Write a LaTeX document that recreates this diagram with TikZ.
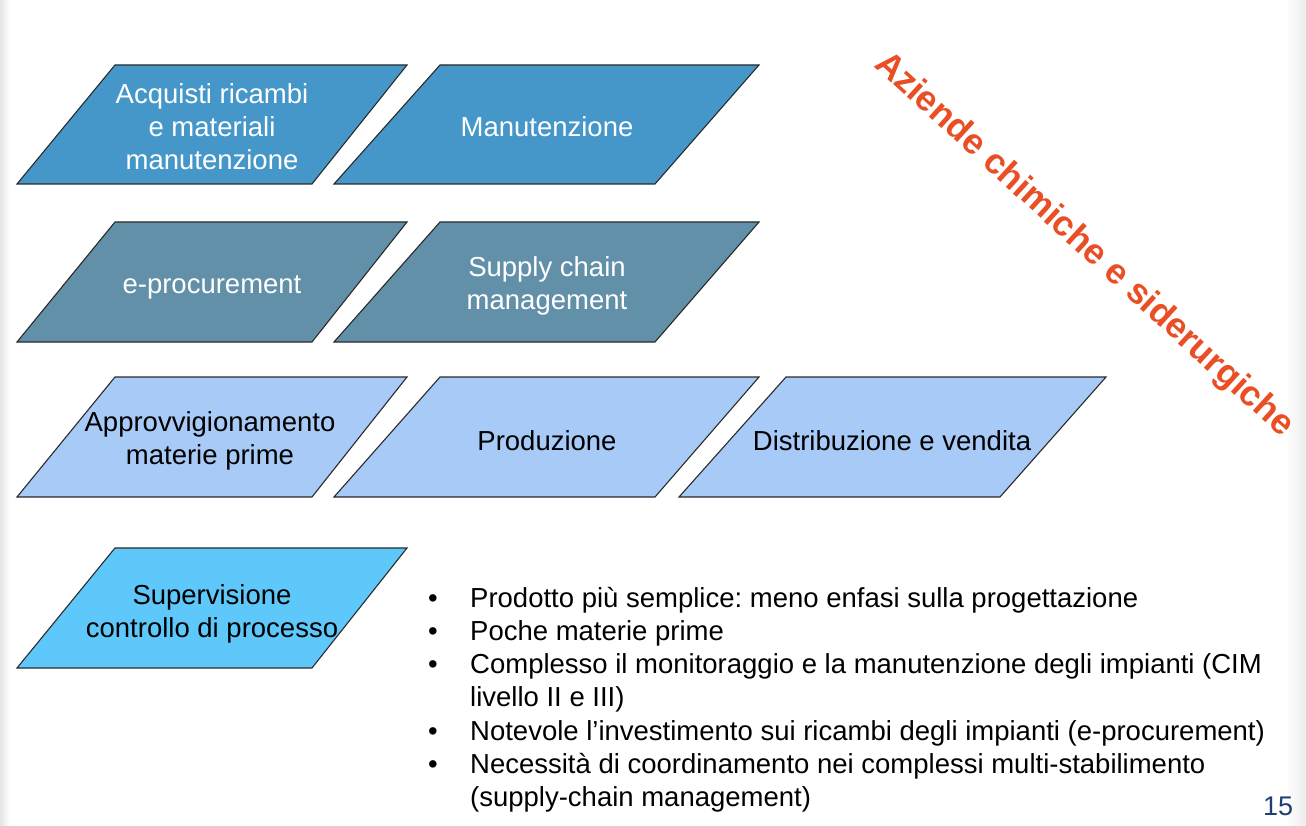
\documentclass[tikz,border=0pt]{standalone}
\usepackage{fontspec}
\setmainfont{Liberation Sans}
\frenchspacing
\definecolor{rowA}{HTML}{4497C8}
\definecolor{rowB}{HTML}{6290A8}
\definecolor{rowC}{HTML}{A7CAF7}
\definecolor{rowD}{HTML}{5DC8F9}
\definecolor{edgec}{HTML}{2A2A2A}
\definecolor{orangeT}{HTML}{E94E24}
\definecolor{pagec}{HTML}{1F3F74}
\definecolor{stripc}{HTML}{E4E4E4}
\tikzset{
  pgA/.style={fill=rowA, draw=edgec, line width=1.1pt},
  pgB/.style={fill=rowB, draw=edgec, line width=1.1pt},
  pgC/.style={fill=rowC, draw=edgec, line width=1.1pt},
  pgD/.style={fill=rowD, draw=edgec, line width=1.1pt},
  boxtxt/.style={align=center, inner sep=0pt, font=\fontsize{27.5}{33}\selectfont},
  wtxt/.style={boxtxt, text=white},
  ktxt/.style={boxtxt, text=black},
  bultxt/.style={anchor=base west, inner sep=0pt, font=\fontsize{27.5}{33}\selectfont},
  bulmark/.style={anchor=base, inner sep=0pt, font=\fontsize{27.5}{33}\selectfont},
}
\begin{document}
\begin{tikzpicture}[x=1pt, y=-1pt]
\useasboundingbox (0,0) rectangle (1306,826);
\fill[white] (0,0) rectangle (1306,826);
% edge strips
\shade[left color=stripc, right color=white] (0,0) rectangle (10,826);
\shade[left color=white, right color=stripc!70] (1286,0) rectangle (1306,826);

% Row 1
\path[pgA] (17,184) -- (115,65) -- (407,65) -- (312,184) -- cycle;
\node[wtxt] (acq) at (212,127) {Acquisti ricambi\\e materiali\\manutenzione};
\path[pgA] (334,184) -- (440,65) -- (759,65) -- (655,184) -- cycle;
\node[wtxt] (man) at (547,127) {Manutenzione};

% Row 2
\path[pgB] (17,342) -- (115,222) -- (407,222) -- (312,342) -- cycle;
\node[wtxt] (eproc) at (212,287) {e-procurement};
\path[pgB] (334,342) -- (440,222) -- (759,222) -- (655,342) -- cycle;
\node[wtxt] (scm) at (547,286) {Supply chain\\management};

% Row 3
\path[pgC] (17,497) -- (115,377) -- (407,377) -- (312,497) -- cycle;
\node[ktxt] (appr) at (210,441) {Approvvigionamento\\materie prime};
\path[pgC] (334,497) -- (440,377) -- (759,377) -- (655,497) -- cycle;
\node[ktxt] (prod) at (547,441) {Produzione};
\path[pgC] (679,497) -- (786,377) -- (1106,377) -- (1000,497) -- cycle;
\node[ktxt] (distr) at (892,441) {Distribuzione e vendita};

% Row 4
\path[pgD] (17,668) -- (115,548) -- (407,548) -- (312,668) -- cycle;
\node[ktxt] (sup) at (212,614) {Supervisione\\controllo di processo};

% Rotated title
\node[anchor=base west, inner sep=0pt, rotate=-42.3, text=orangeT, font=\bfseries\fontsize{35.5}{40}\selectfont] (az) at (873,66) {Aziende chimiche e siderurgiche};

% Bullets
\node[bulmark] (b1) at (433,607) {•};
\node[bultxt] (l1) at (470,607) {Prodotto più semplice: meno enfasi sulla progettazione};
\node[bulmark] (b2) at (433,640.3) {•};
\node[bultxt] (l2) at (470,640.3) {Poche materie prime};
\node[bulmark] (b3) at (433,673.6) {•};
\node[bultxt] (l3) at (470,673.6) {Complesso il monitoraggio e la manutenzione degli impianti (CIM};
\node[bultxt] (l4) at (470,706.9) {livello II e III)};
\node[bulmark] (b4) at (433,740.2) {•};
\node[bultxt] (l5) at (470,740.2) {Notevole l’investimento sui ricambi degli impianti (e-procurement)};
\node[bulmark] (b5) at (433,773.5) {•};
\node[bultxt] (l6) at (470,773.5) {Necessità di coordinamento nei complessi multi-stabilimento};
\node[bultxt] (l7) at (470,806.8) {(supply-chain management)};

% Page number
\node[anchor=base, inner sep=0pt, text=pagec, font=\fontsize{27}{32}\selectfont] (pg) at (1278,815) {15};
\end{tikzpicture}
\end{document}
